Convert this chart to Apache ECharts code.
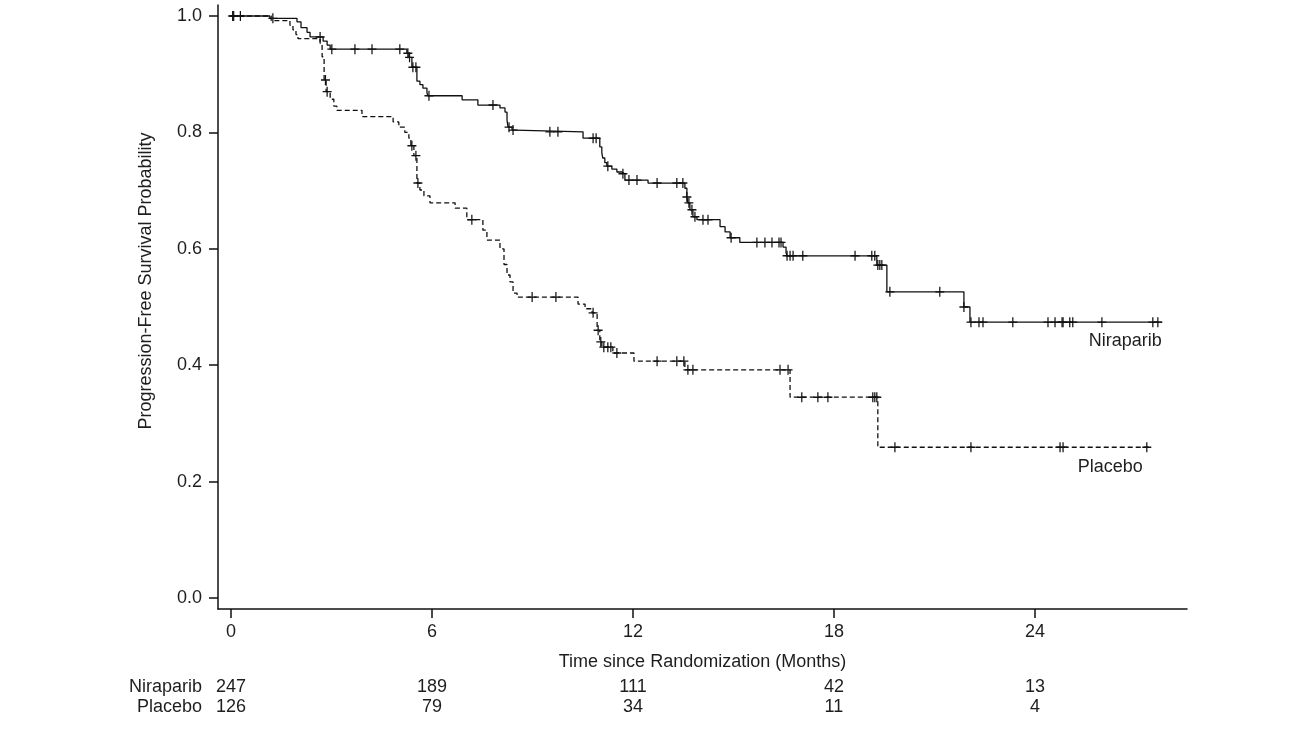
<!DOCTYPE html>
<html><head><meta charset="utf-8">
<script src="https://cdn.jsdelivr.net/npm/echarts@6/dist/echarts.min.js"></script>
<style>html,body{margin:0;padding:0;background:#fff}#c{width:1294px;height:739px}</style>
</head><body><div id="c"></div>
<script>
const FONT = '"Liberation Sans", Arial, sans-serif';
const xTicks = [0, 6, 12, 18, 24];
const yTicks = [0, 0.2, 0.4, 0.6, 0.8, 1.0];
const riskTimes = [0, 6, 12, 18, 24];
const niraparibRisk = [247, 189, 111, 42, 13];
const placeboRisk = [126, 79, 34, 11, 4];
const groupNames = ['Placebo', 'Niraparib'];

const niraparibSteps = [
  [0,1.0],[1.16,0.996],[1.97,0.990],[2.09,0.980],[2.27,0.972],[2.36,0.964],[2.75,0.957],[2.87,0.950],[2.96,0.943],
  [5.25,0.936],[5.31,0.929],[5.40,0.912],[5.55,0.888],[5.64,0.882],[5.73,0.876],[5.85,0.868],[5.88,0.863],
  [6.90,0.856],[7.37,0.847],[8.03,0.842],[8.18,0.835],[8.24,0.821],[8.27,0.809],[8.39,0.804],[8.48,0.801],
  [10.51,0.790],[11.01,0.775],[11.07,0.765],[11.10,0.756],[11.16,0.748],[11.22,0.742],[11.37,0.737],[11.52,0.732],
  [11.67,0.729],[11.76,0.718],[12.45,0.713],[13.55,0.704],[13.61,0.689],[13.64,0.679],[13.70,0.667],[13.79,0.655],
  [13.91,0.650],[14.60,0.638],[14.75,0.629],[14.90,0.619],[15.19,0.611],[16.48,0.603],[16.57,0.593],[16.60,0.588],
  [19.28,0.572],[19.58,0.526],[21.88,0.500],[22.06,0.474],[27.79,0.474]
];
const niraparibCensor = [
  [0.05,1.0],[0.28,1.0],[1.25,0.996],[2.66,0.964],[3.01,0.943],[3.70,0.943],[4.21,0.943],[5.04,0.943],
  [5.28,0.936],[5.33,0.929],[5.43,0.912],[5.52,0.912],[5.91,0.863],[7.82,0.847],[8.30,0.809],[8.42,0.804],
  [9.52,0.801],[9.76,0.801],[10.81,0.790],[10.90,0.790],[11.25,0.742],[11.70,0.729],[11.88,0.718],[12.12,0.718],
  [12.72,0.713],[13.31,0.713],[13.49,0.713],[13.61,0.689],[13.67,0.679],[13.76,0.667],[13.85,0.655],
  [14.09,0.650],[14.24,0.650],[14.93,0.619],[15.70,0.611],[15.94,0.611],[16.15,0.611],[16.36,0.611],[16.42,0.611],
  [16.60,0.588],[16.69,0.588],[16.78,0.588],[17.07,0.588],[18.63,0.588],[19.13,0.588],[19.22,0.588],
  [19.31,0.572],[19.37,0.572],[19.43,0.572],[19.67,0.526],[21.16,0.526],[21.88,0.500],
  [22.09,0.474],[22.33,0.474],[22.45,0.474],[23.34,0.474],[24.39,0.474],[24.60,0.474],[24.81,0.474],[24.84,0.474],
  [25.04,0.474],[25.13,0.474],[26.00,0.474],[27.52,0.474],[27.67,0.474]
];
const placeboSteps = [
  [0,1.0],[1.20,0.992],[1.76,0.984],[1.85,0.976],[1.94,0.968],[2.00,0.961],[2.66,0.953],[2.72,0.930],[2.78,0.890],
  [2.84,0.870],[2.96,0.857],[3.07,0.845],[3.16,0.838],[3.91,0.827],[4.84,0.818],[5.01,0.809],[5.19,0.800],[5.31,0.790],
  [5.37,0.777],[5.46,0.760],[5.55,0.713],[5.64,0.701],[5.76,0.691],[5.94,0.679],[6.69,0.670],[7.04,0.650],[7.52,0.632],
  [7.64,0.615],[8.03,0.600],[8.15,0.573],[8.24,0.555],[8.33,0.543],[8.42,0.524],[8.54,0.517],[10.36,0.505],[10.57,0.497],
  [10.78,0.490],[10.93,0.460],[11.01,0.440],[11.07,0.431],[11.40,0.421],[12.03,0.407],[13.55,0.392],[16.69,0.345],
  [19.31,0.259],[27.46,0.259]
];
const placeboCensor = [
  [0.08,1.0],[2.82,0.890],[2.87,0.870],[5.40,0.777],[5.52,0.760],[5.58,0.713],[7.19,0.650],[8.99,0.517],[9.70,0.517],
  [10.81,0.490],[10.96,0.460],[11.04,0.440],[11.13,0.431],[11.25,0.431],[11.34,0.431],[11.52,0.421],
  [12.72,0.407],[13.31,0.407],[13.52,0.407],[13.64,0.392],[13.79,0.392],[16.39,0.392],[16.63,0.392],
  [17.04,0.345],[17.52,0.345],[17.82,0.345],[19.16,0.345],[19.22,0.345],[19.28,0.345],
  [19.82,0.259],[22.09,0.259],[24.75,0.259],[24.84,0.259],[27.34,0.259]
];

const INK = '#111';
const TXT = '#1e1e1e';
const plus = 'path://M5,0L5,10M0,5L10,5';
const X_MIN = -0.388, X_MAX = 28.54;

const chart = echarts.init(document.getElementById('c'));
const censorStyle = {color: 'rgba(0,0,0,0)', borderColor: INK, borderWidth: 1.3, opacity: 1};
const riskData = [];
riskTimes.forEach((t, i) => {
  riskData.push([t, 'Niraparib', niraparibRisk[i]]);
  riskData.push([t, 'Placebo', placeboRisk[i]]);
});

chart.setOption({
  animation: false,
  grid: [
    {left: 218, right: 107, top: 5, bottom: 130},
    {left: 218, right: 107, top: 677, height: 40}
  ],
  xAxis: [
    {
      type: 'value', min: X_MIN, max: X_MAX,
      axisLine: {onZero: false, lineStyle: {color: INK, width: 1.5}},
      axisTick: {customValues: xTicks, length: 9, lineStyle: {color: INK, width: 1.5}},
      axisLabel: {customValues: xTicks, margin: 14, fontSize: 18, color: TXT, fontFamily: FONT},
      splitLine: {show: false},
      name: 'Time since Randomization (Months)', nameLocation: 'middle', nameGap: 44,
      nameTextStyle: {fontSize: 18, color: TXT, fontFamily: FONT}
    },
    {type: 'value', gridIndex: 1, min: X_MIN, max: X_MAX, show: false}
  ],
  yAxis: [
    {
      type: 'value', min: -0.0189, max: 1.0189,
      axisLine: {show: true, onZero: false, lineStyle: {color: INK, width: 1.5}},
      axisTick: {show: true, customValues: yTicks, length: 9, lineStyle: {color: INK, width: 1.5}},
      axisLabel: {customValues: yTicks, formatter: v => Number(v).toFixed(1), margin: 16, fontSize: 18, color: TXT, fontFamily: FONT},
      splitLine: {show: false}
    },
    {
      type: 'category', gridIndex: 1, data: groupNames,
      axisLine: {show: false}, axisTick: {show: false},
      axisLabel: {interval: 0, margin: 16, fontSize: 18, color: TXT, fontFamily: FONT}
    }
  ],
  series: [
    {name: 'Niraparib', type: 'line', step: 'end', data: niraparibSteps, symbol: 'none',
     lineStyle: {color: INK, width: 1.3}, z: 3},
    {name: 'Placebo', type: 'line', step: 'end', data: placeboSteps, symbol: 'none',
     lineStyle: {color: INK, width: 1.3, type: [5, 3]}, z: 3},
    {name: 'Niraparib censored', type: 'scatter', data: niraparibCensor, symbol: plus, symbolSize: [9, 10],
     itemStyle: censorStyle, z: 4},
    {name: 'Placebo censored', type: 'scatter', data: placeboCensor, symbol: plus, symbolSize: [9, 10],
     itemStyle: censorStyle, z: 4},
    {name: 'At risk', type: 'scatter', xAxisIndex: 1, yAxisIndex: 1, data: riskData,
     symbolSize: 1, itemStyle: {color: 'rgba(0,0,0,0)', opacity: 1},
     label: {show: true, position: 'inside', formatter: p => String(p.value[2]), fontSize: 18, color: TXT, opacity: 1, fontFamily: FONT}}
  ]
});

const nEnd = chart.convertToPixel({gridIndex: 0}, niraparibSteps[niraparibSteps.length - 1]);
const pEnd = chart.convertToPixel({gridIndex: 0}, placeboSteps[placeboSteps.length - 1]);
chart.setOption({
  graphic: [
    {type: 'text', x: 146, y: 281, rotation: Math.PI / 2,
     style: {text: 'Progression-Free Survival Probability', fontSize: 18, fontFamily: FONT, fill: TXT, align: 'center', verticalAlign: 'middle'}},
    {type: 'text', x: nEnd[0], y: nEnd[1] + 19,
     style: {text: 'Niraparib', fontSize: 18, fontFamily: FONT, fill: TXT, align: 'right', verticalAlign: 'middle'}},
    {type: 'text', x: pEnd[0] - 8, y: pEnd[1] + 20,
     style: {text: 'Placebo', fontSize: 18, fontFamily: FONT, fill: TXT, align: 'right', verticalAlign: 'middle'}}
  ]
});
</script>
</body></html>
